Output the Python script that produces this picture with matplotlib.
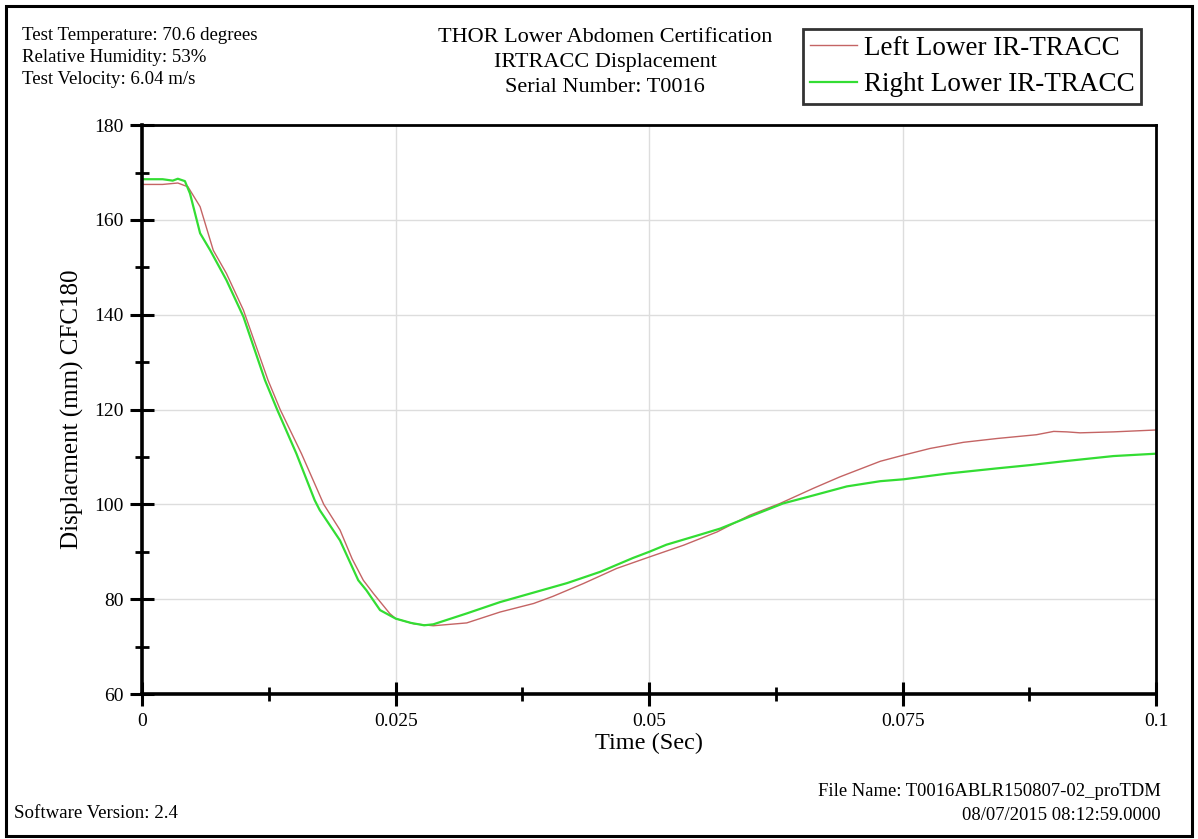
import matplotlib
matplotlib.use("Agg")
import matplotlib.pyplot as plt
from matplotlib.patches import Rectangle
from matplotlib.ticker import MultipleLocator

plt.rcParams["font.family"] = ["Liberation Serif", "DejaVu Serif"]

# Left Lower IR-TRACC
left_t = [0, 0.002, 0.0035, 0.0045, 0.0057, 0.007, 0.0083, 0.00997, 0.0124, 0.0136,
          0.0157, 0.0179, 0.0195, 0.0207, 0.0218, 0.0228, 0.0244, 0.025, 0.0268, 0.0287,
          0.032, 0.0353, 0.0386, 0.0405, 0.0435, 0.0468, 0.05, 0.0534, 0.0567, 0.0599,
          0.0629, 0.0662, 0.0688, 0.0728, 0.0751, 0.0777, 0.081, 0.0843, 0.0882, 0.0899,
          0.0912, 0.0925, 0.0958, 0.1]
left_v = [167.5, 167.5, 167.8, 167.0, 162.8, 153.6, 148.7, 141.0, 126.2, 120.0,
          110.7, 100.0, 94.6, 88.5, 84.0, 81.2, 77.0, 75.9, 74.8, 74.4,
          75.0, 77.3, 79.1, 80.6, 83.3, 86.5, 88.9, 91.4, 94.2, 97.7,
          100.2, 103.4, 105.8, 109.1, 110.4, 111.8, 113.1, 113.9, 114.7, 115.4,
          115.3, 115.1, 115.3, 115.7]

# Right Lower IR-TRACC
right_t = [0, 0.002, 0.003, 0.0035, 0.0042, 0.0047, 0.0057, 0.0067, 0.0083, 0.00997,
           0.0121, 0.0133, 0.0152, 0.017, 0.0175, 0.0195, 0.0213, 0.0221, 0.02345, 0.025,
           0.0265, 0.0278, 0.0287, 0.032, 0.0353, 0.0386, 0.0419, 0.0452, 0.0484, 0.05,
           0.0517, 0.055, 0.057, 0.0599, 0.0632, 0.0662, 0.0695, 0.0728, 0.0751, 0.0794,
           0.0843, 0.0876, 0.0909, 0.0958, 0.1]
right_v = [168.6, 168.6, 168.3, 168.7, 168.2, 165.6, 157.2, 153.6, 147.3, 139.6,
           126.2, 120.0, 110.7, 100.9, 98.8, 92.4, 84.0, 81.9, 77.7, 75.9,
           75.0, 74.5, 74.7, 77.0, 79.4, 81.4, 83.4, 85.8, 88.7, 90.0,
           91.5, 93.6, 94.9, 97.4, 100.2, 101.9, 103.8, 104.9, 105.3, 106.5,
           107.6, 108.3, 109.1, 110.2, 110.7]

x_ticks = [0, 0.025, 0.05, 0.075, 0.1]
x_labels = ["0", "0.025", "0.05", "0.075", "0.1"]

fig = plt.figure(figsize=(11.98, 8.39), dpi=100)
ax = fig.add_axes([0.1188, 0.1728, 0.8462, 0.678])

ax.plot(left_t, left_v, color="#c46464", lw=1.0, label="Left Lower IR-TRACC")
ax.plot(right_t, right_v, color="#33dd33", lw=1.6, label="Right Lower IR-TRACC")

ax.set_xlim(0, 0.1)
ax.set_ylim(60, 180)
ax.set_xticks(x_ticks)
ax.set_xticklabels(x_labels)
ax.xaxis.set_minor_locator(MultipleLocator(0.0125))
ax.yaxis.set_major_locator(MultipleLocator(20))
ax.yaxis.set_minor_locator(MultipleLocator(10))

ax.tick_params(which="major", direction="inout", length=17, width=2.2, labelsize=14, pad=5)
ax.tick_params(which="minor", direction="inout", length=10, width=2.0)
ax.grid(which="major", color="#dddddd", lw=1)
for side in ["left", "bottom"]:
    ax.spines[side].set_linewidth(2.6)
for side in ["top", "right"]:
    ax.spines[side].set_linewidth(2.0)

ax.set_xlabel("Time (Sec)", fontsize=17.5, labelpad=2)
ax.set_ylabel("Displacment (mm) CFC180", fontsize=18, labelpad=7)

leg = fig.legend(loc="upper left", bbox_to_anchor=(803 / 1198, 1 - 29 / 839),
                 fontsize=19.5, frameon=True, fancybox=False, handlelength=1.75,
                 handletextpad=0.25, borderpad=0.25, labelspacing=0.42, borderaxespad=0)
leg.get_frame().set_edgecolor("black")
leg.get_frame().set_linewidth(2)

fig.text(22 / 1198, 1 - 35 / 839, "Test Temperature: 70.6 degrees", fontsize=13.6, va="center")
fig.text(22 / 1198, 1 - 57 / 839, "Relative Humidity: 53%", fontsize=13.6, va="center")
fig.text(22 / 1198, 1 - 80 / 839, "Test Velocity: 6.04 m/s", fontsize=13.6, va="center")

fig.text(605 / 1198, 1 - 37 / 839, "THOR Lower Abdomen Certification", fontsize=16, ha="center", va="center")
fig.text(605 / 1198, 1 - 62 / 839, "IRTRACC Displacement", fontsize=16, ha="center", va="center")
fig.text(605 / 1198, 1 - 87 / 839, "Serial Number: T0016", fontsize=16, ha="center", va="center")

fig.text(14 / 1198, 1 - 813 / 839, "Software Version: 2.4", fontsize=13.6, va="center")
fig.text(1161 / 1198, 1 - 791 / 839, "File Name: T0016ABLR150807-02_proTDM", fontsize=13.4, ha="right", va="center")
fig.text(1161 / 1198, 1 - 815 / 839, "08/07/2015 08:12:59.0000", fontsize=13.4, ha="right", va="center")

fig.patches.append(Rectangle((6 / 1198, 3 / 839), 1186 / 1198, 830 / 839, transform=fig.transFigure,
                             fill=False, edgecolor="black", lw=2.2))

fig.savefig("out.png", dpi=100)
